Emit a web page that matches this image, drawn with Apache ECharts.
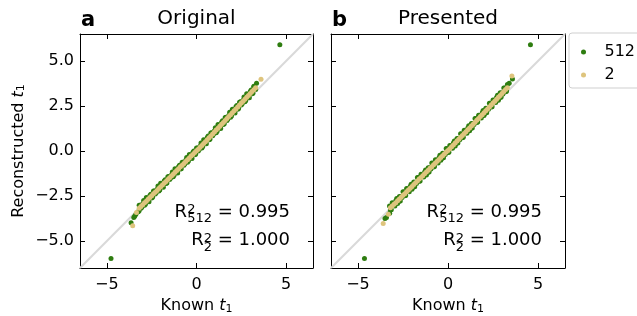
<!DOCTYPE html>
<html>
<head>
<meta charset="utf-8">
<script src="https://cdn.jsdelivr.net/npm/echarts@6/dist/echarts.min.js"></script>
<style>
  html, body { margin: 0; padding: 0; background: #fff; }
  #chart { width: 637px; height: 316px; }
</style>
</head>
<body>
<div id="chart"></div>
<script>
// ==================== data ====================

// known t1 along the dense band
const knownT1 = [
  -3.2, -3.1, -3.0, -2.9, -2.8, -2.7, -2.6, -2.5, -2.4, -2.3, -2.2,
  -2.1, -2.0, -1.9, -1.8, -1.7, -1.6, -1.5, -1.4, -1.3, -1.2, -1.1,
  -1.0, -0.9, -0.8, -0.7, -0.6, -0.5, -0.4, -0.3, -0.2, -0.1, 0.0,
  0.1, 0.2, 0.3, 0.4, 0.5, 0.6, 0.7, 0.8, 0.9, 1.0, 1.1,
  1.2, 1.3, 1.4, 1.5, 1.6, 1.7, 1.8, 1.9, 2.0, 2.1, 2.2,
  2.3, 2.4, 2.5, 2.6, 2.7, 2.8, 2.9, 3.0, 3.1, 3.2, 3.3
];
// in-between known t1 (second half of the 512 cloud)
const knownT1Mid = [
  -3.25, -3.15, -3.05, -2.95, -2.85, -2.75, -2.65, -2.55, -2.45, -2.35, -2.25,
  -2.15, -2.05, -1.95, -1.85, -1.75, -1.65, -1.55, -1.45, -1.35, -1.25, -1.15,
  -1.05, -0.95, -0.85, -0.75, -0.65, -0.55, -0.45, -0.35, -0.25, -0.15, -0.05,
  0.05, 0.15, 0.25, 0.35, 0.45, 0.55, 0.65, 0.75, 0.85, 0.95, 1.05,
  1.15, 1.25, 1.35, 1.45, 1.55, 1.65, 1.75, 1.85, 1.95, 2.05, 2.15,
  2.25, 2.35, 2.45, 2.55, 2.65, 2.75, 2.85, 2.95, 3.05, 3.15, 3.25
];

// panel a (Original), reconstructed t1
const original512 = [
  -3.02, -3.18, -2.93, -3.02, -2.59, -2.74, -2.47, -2.61, -2.22, -2.39, -2.13,
  -2.22, -1.79, -1.95, -1.66, -1.81, -1.43, -1.58, -1.33, -1.43, -0.98, -1.15,
  -0.87, -1.00, -0.63, -0.79, -0.52, -0.63, -0.19, -0.34, -0.07, -0.21, 0.17,
  0.00, 0.27, 0.17, 0.62, 0.46, 0.75, 0.62, 1.00, 0.85, 1.12, 1.02,
  1.47, 1.32, 1.60, 1.47, 1.86, 1.70, 1.97, 1.88, 2.32, 2.17, 2.46,
  2.32, 2.71, 2.56, 2.82, 2.73, 3.18, 3.02, 3.31, 3.18, 3.56, 3.41
];
const original512Mid = [
  -3.37, -3.01, -3.12, -2.75, -2.96, -2.65, -2.82, -2.40, -2.57, -2.22, -2.32,
  -1.95, -2.16, -1.86, -2.01, -1.60, -1.78, -1.41, -1.52, -1.16, -1.35, -1.06,
  -1.22, -0.79, -0.98, -0.62, -0.71, -0.36, -0.56, -0.25, -0.42, 0.00, -0.18,
  0.17, 0.08, 0.44, 0.25, 0.55, 0.40, 0.83, 0.65, 1.02, 0.93, 1.29,
  1.10, 1.41, 1.25, 1.68, 1.51, 1.87, 1.78, 2.15, 1.95, 2.26, 2.11,
  2.53, 2.36, 2.73, 2.63, 3.00, 2.81, 3.11, 2.96, 3.39, 3.21, 3.58
];
const original2 = [
  -3.18, -3.08, -2.99, -2.88, -2.79, -2.68, -2.59, -2.49, -2.38, -2.29, -2.19,
  -2.08, -1.99, -1.89, -1.78, -1.69, -1.59, -1.48, -1.39, -1.29, -1.18, -1.09,
  -0.99, -0.88, -0.79, -0.69, -0.58, -0.49, -0.39, -0.28, -0.19, -0.09, 0.01,
  0.10, 0.21, 0.31, 0.42, 0.52, 0.63, 0.74, 0.84, 0.95, 1.06, 1.16,
  1.27, 1.38, 1.48, 1.59, 1.70, 1.80, 1.91, 2.02, 2.12, 2.23, 2.34,
  2.44, 2.55, 2.66, 2.76, 2.87, 2.98, 3.08, 3.19, 3.30, 3.40, 3.51
];
const original512Tails = [
  [4.65, 5.9], [3.35, 3.76], [3.2, 3.6], [-3.2, -3.32], [-3.38, -3.52],
  [-3.45, -3.62], [-3.5, -3.7], [-3.65, -3.98], [-4.77, -5.97]
];
const original2Tails = [[3.6, 3.98], [-3.35, -3.42], [-3.56, -4.15]];

// panel b (Presented), reconstructed t1
const presented512 = [
  -3.27, -2.88, -3.01, -2.77, -2.92, -2.53, -2.53, -2.26, -2.49, -2.09, -2.21,
  -1.97, -2.13, -1.72, -1.73, -1.47, -1.68, -1.29, -1.42, -1.16, -1.33, -0.93,
  -0.92, -0.67, -0.89, -0.48, -0.62, -0.37, -0.52, -0.13, -0.13, 0.14, -0.09,
  0.31, 0.18, 0.44, 0.28, 0.69, 0.69, 0.96, 0.74, 1.15, 1.02, 1.28,
  1.12, 1.53, 1.53, 1.80, 1.59, 1.99, 1.87, 2.12, 1.97, 2.38, 2.38,
  2.65, 2.44, 2.84, 2.72, 2.98, 2.82, 3.23, 3.24, 3.50, 3.29, 3.70
];
const presented512Mid = [
  -3.06, -3.26, -2.91, -3.06, -2.64, -2.82, -2.78, -2.59, -2.28, -2.47, -2.11,
  -2.26, -1.85, -2.01, -1.98, -1.80, -1.47, -1.67, -1.32, -1.45, -1.05, -1.22,
  -1.17, -1.00, -0.68, -0.86, -0.52, -0.66, -0.24, -0.42, -0.38, -0.19, 0.12,
  -0.07, 0.28, 0.15, 0.56, 0.40, 0.44, 0.63, 0.95, 0.77, 1.12, 0.99,
  1.40, 1.24, 1.28, 1.47, 1.80, 1.61, 1.97, 1.83, 2.25, 2.09, 2.13,
  2.32, 2.65, 2.46, 2.82, 2.69, 3.10, 2.94, 2.99, 3.17, 3.50, 3.32
];
const presented2 = [
  -3.15, -3.06, -2.96, -2.87, -2.76, -2.67, -2.57, -2.46, -2.37, -2.27, -2.16,
  -2.07, -1.97, -1.86, -1.77, -1.67, -1.56, -1.47, -1.37, -1.26, -1.17, -1.07,
  -0.96, -0.87, -0.77, -0.66, -0.57, -0.47, -0.36, -0.27, -0.17, -0.06, 0.03,
  0.13, 0.23, 0.34, 0.44, 0.55, 0.65, 0.76, 0.86, 0.97, 1.07, 1.18,
  1.28, 1.39, 1.49, 1.60, 1.71, 1.81, 1.92, 2.02, 2.13, 2.24, 2.34,
  2.45, 2.56, 2.66, 2.77, 2.88, 2.98, 3.09, 3.20, 3.30, 3.41, 3.52
];
const presented512Tails = [
  [4.58, 5.9], [3.58, 4.0], [3.4, 3.76], [-3.24, -3.46], [-3.42, -3.7],
  [-3.5, -3.75], [-4.64, -5.97]
];
const presented2Tails = [[3.55, 4.16], [-3.31, -3.52], [-3.6, -4.03]];

// y = x reference line
const identityLine = [[-6.5, -6.5], [6.5, 6.5]];

// axes
const axisRange = [-6.5, 6.5];
const xTickValues = [-5, 0, 5];
const yTickValues = [-5, -2.5, 0, 2.5, 5];

// annotation text
const panelTitles = ['Original', 'Presented'];
const panelLetters = ['a', 'b'];
const r2Lines = [
  { sub: '512', value: '0.995' },
  { sub: '2', value: '1.000' }
];

// ==================== styling ====================

const FONT = '"DejaVu Sans", sans-serif';
const GREEN = '#2e7d10';
const TAN = '#dec47d';
const GRIDS = [
  { left: 80, top: 34, width: 233, height: 234, outerBoundsMode: 'none', containLabel: false },
  { left: 331, top: 34, width: 234, height: 234, outerBoundsMode: 'none', containLabel: false }
];

const minus = v => String(v).replace('-', '\u2212');

function toPoints(xs, ys) {
  return xs.map((x, i) => [x, ys[i]]);
}

const measureCtx = document.createElement('canvas').getContext('2d');
function textWidth(str, size) {
  measureCtx.font = size + 'px ' + FONT;
  return measureCtx.measureText(str).width;
}

function makeText(x, y, text, font, align) {
  return {
    type: 'text', x: x, y: y, silent: true,
    style: {
      text: text, font: font, fill: '#000',
      align: align, textAlign: align,
      verticalAlign: 'middle', textVerticalAlign: 'middle'
    }
  };
}

// R^2_sub = value, right-aligned at `right`
function r2Annotation(right, cy) {
  const els = [];
  r2Lines.forEach((line, k) => {
    const y = cy + k * 28.5;
    const tail = ' = ' + line.value;
    const xTail = right - textWidth(tail, 18);
    const scriptW = Math.max(textWidth(line.sub, 13), textWidth('2', 13));
    const xScript = xTail - scriptW;
    els.push(makeText(xTail, y, tail, '18px ' + FONT, 'left'));
    els.push(makeText(xScript, y + 7, line.sub, '13px ' + FONT, 'left'));
    els.push(makeText(xScript, y - 2, '2', '13px ' + FONT, 'left'));
    els.push(makeText(xScript, y, 'R', '18px ' + FONT, 'right'));
  });
  return els;
}

const nameRich = {
  n: { fontSize: 16, fontFamily: FONT, color: '#000' },
  i: { fontSize: 16, fontFamily: FONT, fontStyle: 'italic', color: '#000' },
  s: { fontSize: 11, fontFamily: FONT, color: '#000', verticalAlign: 'bottom', padding: [6, 0, 0, 0] }
};

function xAxisPair(gridIndex) {
  const base = {
    gridIndex: gridIndex, type: 'value',
    min: axisRange[0], max: axisRange[1],
    splitLine: { show: false },
    axisLine: { show: true, onZero: false, lineStyle: { color: '#000', width: 1 } },
    axisTick: { show: true, inside: true, length: 5, customValues: xTickValues, lineStyle: { color: '#000' } }
  };
  return [
    Object.assign({}, base, {
      position: 'bottom',
      axisLabel: {
        show: true, customValues: xTickValues, margin: 9,
        fontSize: 16, fontFamily: FONT, color: '#000', formatter: minus
      },
      name: '{n|Known }{i|t}{s|1}',
      nameLocation: 'middle', nameGap: 29,
      nameTextStyle: { rich: nameRich }
    }),
    Object.assign({}, base, { position: 'top', axisLabel: { show: false } })
  ];
}

function yAxisPair(gridIndex, showLabels) {
  const base = {
    gridIndex: gridIndex, type: 'value',
    min: axisRange[0], max: axisRange[1],
    splitLine: { show: false },
    axisLine: { show: true, onZero: false, lineStyle: { color: '#000', width: 1 } },
    axisTick: { show: true, inside: true, length: 5, customValues: yTickValues, lineStyle: { color: '#000' } }
  };
  return [
    Object.assign({}, base, {
      position: 'left',
      axisLabel: {
        show: showLabels, customValues: yTickValues, margin: 6,
        fontSize: 16, fontFamily: FONT, color: '#000',
        formatter: v => minus(v.toFixed(1))
      },
      name: showLabels ? '{n|Reconstructed }{i|t}{s|1}' : '',
      nameLocation: 'middle', nameGap: 53,
      nameTextStyle: { rich: nameRich }
    }),
    Object.assign({}, base, { position: 'right', axisLabel: { show: false } })
  ];
}

function panelSeries(axisIndex, pts512, pts2) {
  return [
    {
      name: 'identity', type: 'line', xAxisIndex: axisIndex, yAxisIndex: axisIndex,
      data: identityLine, symbol: 'none', silent: true, z: 1,
      lineStyle: { color: '#d9d9d9', width: 2 }
    },
    {
      name: '512', type: 'scatter', xAxisIndex: axisIndex, yAxisIndex: axisIndex,
      data: pts512, symbolSize: 5, z: 2,
      itemStyle: { color: GREEN, opacity: 1 }
    },
    {
      name: '2', type: 'scatter', xAxisIndex: axisIndex, yAxisIndex: axisIndex,
      data: pts2, symbolSize: 5, z: 3,
      itemStyle: { color: TAN, opacity: 1 }
    }
  ];
}

// ==================== chart ====================

const chart = echarts.init(document.getElementById('chart'), null, { renderer: 'canvas' });

const graphics = [];
GRIDS.forEach((g, k) => {
  graphics.push(makeText(g.left + g.width / 2, 19, panelTitles[k], '20px ' + FONT, 'center'));
  graphics.push(makeText(g.left + 1, 21, panelLetters[k], 'bold 21px ' + FONT, 'left'));
  graphics.push.apply(graphics, r2Annotation(g.left + g.width - 23, 212));
});

const orig512Pts = toPoints(knownT1, original512).concat(toPoints(knownT1Mid, original512Mid), original512Tails);
const orig2Pts = toPoints(knownT1, original2).concat(original2Tails);
const pres512Pts = toPoints(knownT1, presented512).concat(toPoints(knownT1Mid, presented512Mid), presented512Tails);
const pres2Pts = toPoints(knownT1, presented2).concat(presented2Tails);

chart.setOption({
  animation: false,
  backgroundColor: '#fff',
  grid: GRIDS,
  xAxis: xAxisPair(0).concat(xAxisPair(1)),
  yAxis: yAxisPair(0, true).concat(yAxisPair(1, false)),
  legend: {
    data: ['512', '2'],
    orient: 'vertical',
    left: 569, top: 33,
    padding: [11, 40, 5, 12],
    itemGap: 7,
    itemWidth: 24, itemHeight: 5,
    icon: 'circle',
    borderColor: '#cfcfcf', borderWidth: 1, borderRadius: 3,
    backgroundColor: '#fff',
    textStyle: { fontSize: 16, fontFamily: FONT, color: '#000', lineHeight: 16, padding: [0, 0, 0, 4] }
  },
  graphic: graphics,
  series: panelSeries(0, orig512Pts, orig2Pts).concat(panelSeries(2, pres512Pts, pres2Pts))
});
</script>
</body>
</html>
